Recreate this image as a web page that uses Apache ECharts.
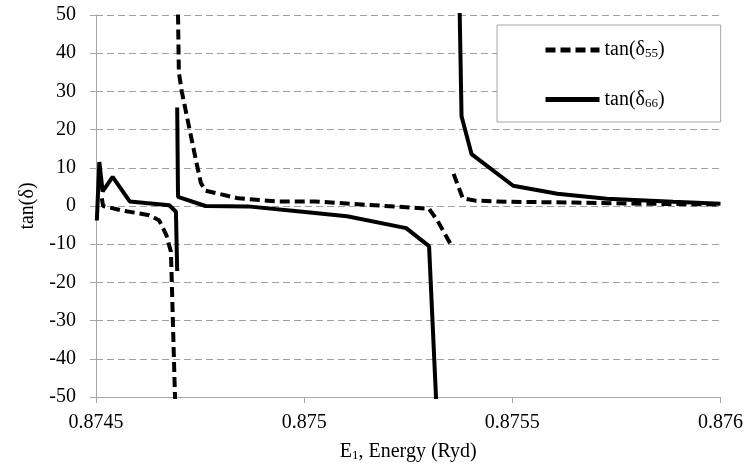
<!DOCTYPE html>
<html>
<head>
<meta charset="utf-8">
<script src="https://cdn.jsdelivr.net/npm/echarts@6/dist/echarts.min.js"></script>
<style>
  html, body { margin: 0; padding: 0; background: #fff; }
  #chart { width: 746px; height: 467px; }
</style>
</head>
<body>
<div id="chart"></div>
<script>
// energy (Ryd) and tan(delta); null = break in the curve
const e55 = [0.874514, 0.874517, 0.874564, 0.874628, 0.874652, 0.874669, 0.874680, 0.874691,
             0.874693,
             0.874696, 0.874699, 0.874706, 0.874723, 0.874740, 0.874752, 0.874763, 0.874842,
             0.874937, 0.875025, 0.875181, 0.875300, 0.875321, 0.875352,
             0.875355,
             0.875359, 0.875381, 0.875411, 0.875490, 0.875649, 0.875808, 0.876000]
const t55 = [2, 0, -1.2, -2.4, -3.8, -7.6, -12, -55,
             null,
             58, 35, 30, 21, 12, 6, 4, 2,
             1.2, 1.2, 0.1, -0.7, -4, -10,
             null,
             8.4, 2, 1.4, 1.1, 0.9, 0.6, 0.4]

const e66 = [0.874502, 0.874508, 0.874516, 0.874540, 0.874581, 0.874676, 0.874692, 0.874695,
             0.874695,
             0.874695, 0.874697, 0.874763, 0.874865, 0.874984, 0.875103, 0.875245, 0.875300, 0.875320,
             0.875350,
             0.875372, 0.875378, 0.875402, 0.875502, 0.875608, 0.875727, 0.875886, 0.876000]
const t66 = [-3.8, 11.5, 3.8, 7.6, 1.2, 0.2, -1.5, -17,
             null,
             25.8, 2.4, 0, -0.1, -1.4, -2.7, -5.8, -10.5, -58,
             null,
             60, 23.5, 13.6, 5.3, 3.2, 1.9, 1.1, 0.6]

const xTicks = ['0.8745', '0.875', '0.8755', '0.876']
const seriesNames = ['tan(δ55)', 'tan(δ66)']

const font = "'Liberation Serif', 'Times New Roman', serif"

const chart = echarts.init(document.getElementById('chart'))

const option = {
    animation: false,
    textStyle: { fontFamily: font, color: '#000' },
    grid: { left: 96, right: 18, top: 15, bottom: 67 },
    legend: {
        orient: 'vertical',
        left: 497,
        top: 25,
        padding: [15, 56, 12, 46],
        itemGap: 29,
        itemWidth: 54,
        itemHeight: 14,
        backgroundColor: '#fff',
        borderColor: '#a6a6a6',
        borderWidth: 1,
        data: seriesNames,
        itemStyle: { opacity: 0 },
        lineStyle: { width: 5, color: '#000' },
        formatter: (name) => {
            const sub = name.replace('tan(δ', '').replace(')', '')
            return '{a|tan(δ}{s|' + sub + '}{a|)}'
        },
        textStyle: {
            fontFamily: font,
            color: '#000',
            rich: {
                a: { fontFamily: font, fontSize: 20, color: '#000' },
                s: { fontFamily: font, fontSize: 13, color: '#000', verticalAlign: 'bottom', padding: [8, 0, 0, 0] }
            }
        }
    },
    xAxis: {
        type: 'value',
        min: 0.8745,
        max: 0.876,
        interval: 0.0005,
        name: '{a|E}{s|1}{a|, Energy (Ryd)}',
        nameLocation: 'middle',
        nameGap: 44,
        nameTextStyle: {
            rich: {
                a: { fontFamily: font, fontSize: 20, color: '#000' },
                s: { fontFamily: font, fontSize: 13, color: '#000', padding: [8, 0, 0, 0] }
            }
        },
        axisLine: { onZero: false, lineStyle: { color: '#a6a6a6', width: 1 } },
        axisTick: { show: true, length: 6, lineStyle: { color: '#a6a6a6' } },
        axisLabel: {
            fontFamily: font,
            fontSize: 20,
            color: '#000',
            margin: 16,
            formatter: (v) => xTicks[Math.round((v - 0.8745) / 0.0005)]
        },
        splitLine: { show: false }
    },
    yAxis: {
        type: 'value',
        min: -50,
        max: 50,
        interval: 10,
        name: 'tan(δ)',
        nameLocation: 'middle',
        nameGap: 58,
        nameTextStyle: { fontFamily: font, fontSize: 20, color: '#000' },
        axisLine: { show: true, lineStyle: { color: '#a6a6a6', width: 1 } },
        axisTick: { show: true, length: 6, lineStyle: { color: '#a6a6a6' } },
        axisLabel: { fontFamily: font, fontSize: 20, color: '#000', margin: 20 },
        splitLine: { show: true, lineStyle: { color: '#a0a0a0', width: 1, type: [7, 4] } }
    },
    series: [
        {
            name: seriesNames[0],
            type: 'line',
            symbol: 'none',
            connectNulls: false,
            clip: true,
            lineStyle: { color: '#000', width: 4, type: [10, 5], cap: 'butt' },
            itemStyle: { color: '#000' },
            data: e55.map((x, i) => [x, t55[i]])
        },
        {
            name: seriesNames[1],
            type: 'line',
            symbol: 'none',
            connectNulls: false,
            clip: true,
            lineStyle: { color: '#000', width: 4, type: 'solid' },
            itemStyle: { color: '#000' },
            data: e66.map((x, i) => [x, t66[i]])
        }
    ]
}

chart.setOption(option)
</script>
</body>
</html>
